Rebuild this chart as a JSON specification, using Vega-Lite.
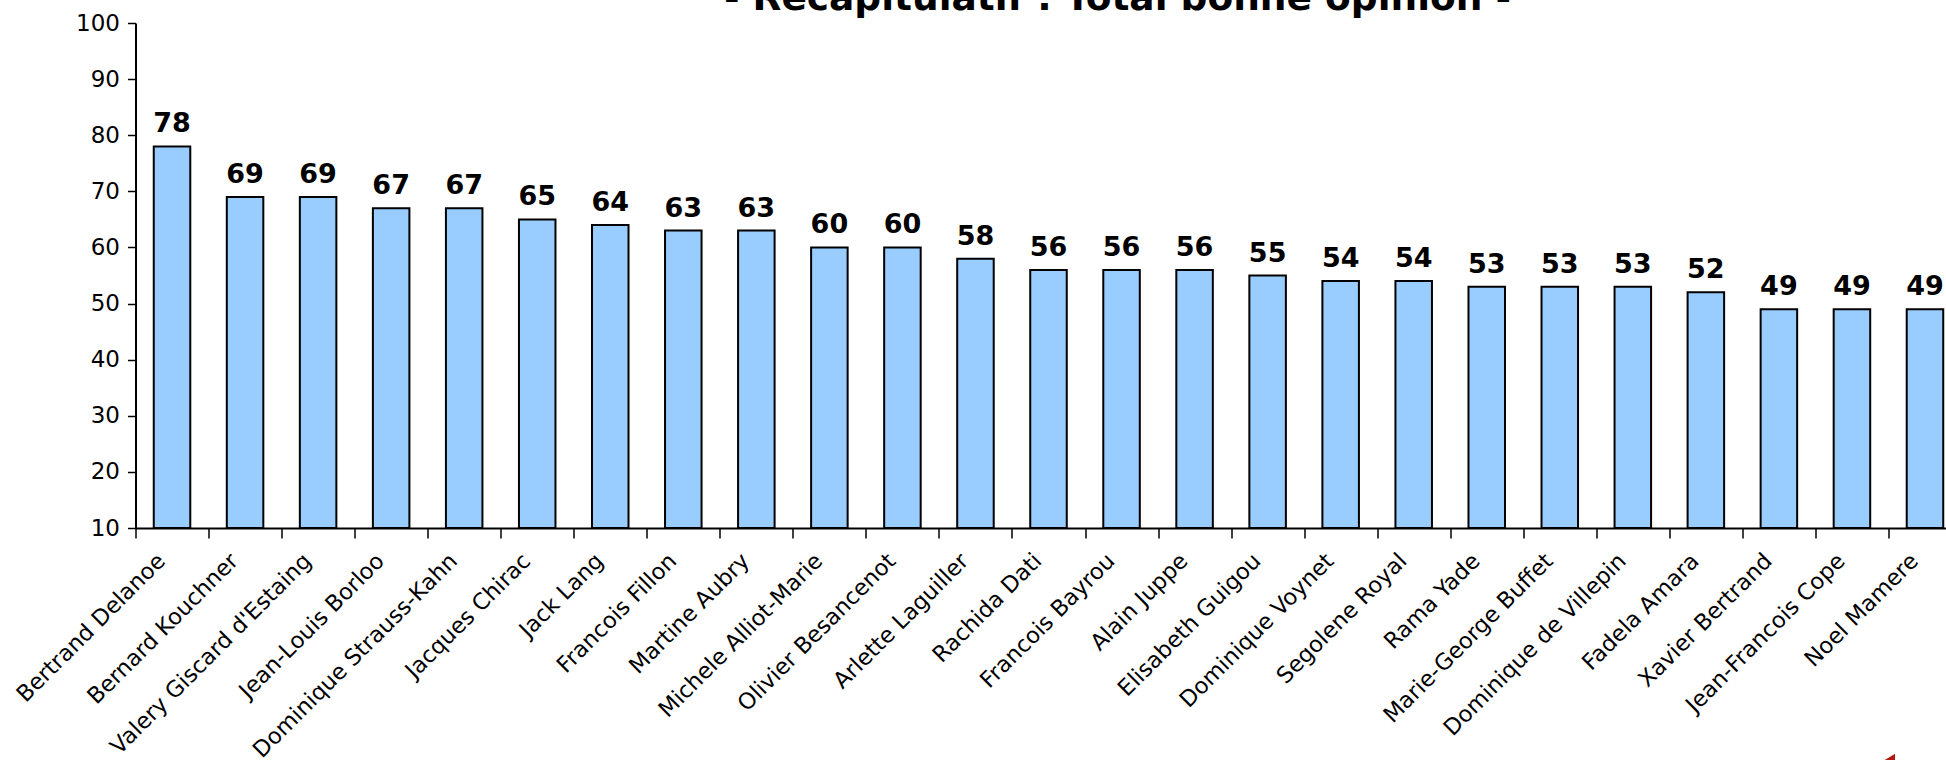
{"$schema":"https://vega.github.io/schema/vega-lite/v6.json","width":1826,"height":505,"autosize":"none","padding":{"left":135.5,"top":23,"right":0,"bottom":232},"background":"white","view":{"stroke":null},
"title":{"text":"- Recapitulatif : Total bonne opinion -","font":"DejaVu Sans","fontWeight":"bold","fontSize":37.5,"color":"black","anchor":"middle","dx":69,"offset":-35,"baseline":"alphabetic"},
"data":{"values":[{"n":"Bertrand Delanoe","v":78},{"n":"Bernard Kouchner","v":69},{"n":"Valery Giscard d'Estaing","v":69},{"n":"Jean-Louis Borloo","v":67},{"n":"Dominique Strauss-Kahn","v":67},{"n":"Jacques Chirac","v":65},{"n":"Jack Lang","v":64},{"n":"Francois Fillon","v":63},{"n":"Martine Aubry","v":63},{"n":"Michele Alliot-Marie","v":60},{"n":"Olivier Besancenot","v":60},{"n":"Arlette Laguiller","v":58},{"n":"Rachida Dati","v":56},{"n":"Francois Bayrou","v":56},{"n":"Alain Juppe","v":56},{"n":"Elisabeth Guigou","v":55},{"n":"Dominique Voynet","v":54},{"n":"Segolene Royal","v":54},{"n":"Rama Yade","v":53},{"n":"Marie-George Buffet","v":53},{"n":"Dominique de Villepin","v":53},{"n":"Fadela Amara","v":52},{"n":"Xavier Bertrand","v":49},{"n":"Jean-Francois Cope","v":49},{"n":"Noel Mamere","v":49}]},
"encoding":{"x":{"field":"n","type":"nominal","sort":null,"scale":{"paddingInner":0,"paddingOuter":0},"axis":{"title":null,"tickBand":"extent","labelAngle":-45,"labelAlign":"right","labelBaseline":"middle","labelFont":"DejaVu Sans","labelFontSize":22.5,"labelColor":"black","domainColor":"black","domainWidth":2,"tickColor":"black","tickWidth":1.5,"tickSize":10,"labelPadding":19,"labelOffset":-11,"grid":false,"labelOverlap":false,"labelLimit":400}},
"y":{"field":"v","type":"quantitative","scale":{"domain":[10,100]},"axis":{"title":null,"values":[10,20,30,40,50,60,70,80,90,100],"labelFont":"DejaVu Sans","labelFontSize":23,"labelColor":"black","domainColor":"black","domainWidth":2,"tickColor":"black","tickWidth":1.5,"tickSize":8,"labelPadding":8,"grid":false}}},
"layer":[{"mark":{"type":"bar","fill":"#99CCFF","stroke":"black","strokeWidth":2,"width":{"band":0.5}},"encoding":{"y2":{"datum":10}}},
{"mark":{"type":"text","font":"DejaVu Sans","fontWeight":"bold","fontSize":27,"color":"black","baseline":"bottom","dy":-8},"encoding":{"text":{"field":"v","type":"quantitative"}}},
{"data":{"values":[{"n":"Noel Mamere","v":-31}]},"mark":{"type":"point","shape":"M-1,0.6L1,-0.6L1,1L-1,1Z","filled":true,"fill":"#B0190F","opacity":1,"size":200,"xOffset":-37}}]}
